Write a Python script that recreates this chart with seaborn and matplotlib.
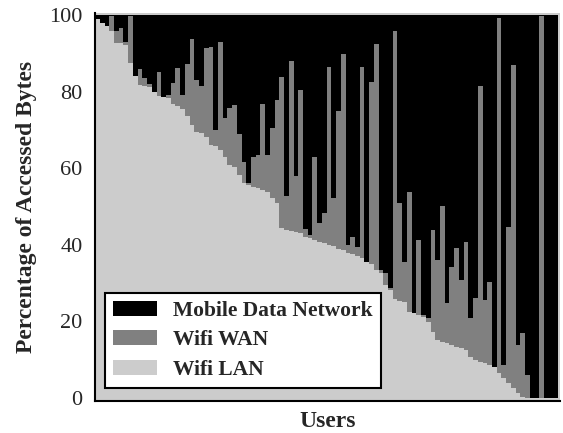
import numpy as np
import pandas as pd
import matplotlib
matplotlib.use('Agg')
import matplotlib.pyplot as plt
import seaborn as sns
from matplotlib.patches import Patch

# share of accessed bytes per user (percent), users sorted by wifi lan share
lan = [99.0, 97.8, 97.0, 95.9, 92.8, 92.6, 92.2, 87.4, 84.1, 81.7,
       81.4, 81.1, 80.0, 78.9, 78.5, 78.3, 76.8, 76.1, 75.4, 73.6,
       71.3, 69.5, 69.2, 68.2, 66.1, 65.8, 64.8, 63.0, 60.8, 60.4,
       58.2, 56.2, 55.6, 55.2, 54.7, 54.3, 53.9, 52.1, 50.8, 44.3,
       43.9, 43.7, 43.4, 43.0, 42.1, 41.8, 41.2, 40.8, 40.4, 40.0,
       39.6, 39.0, 38.5, 37.9, 37.5, 37.0, 36.5, 35.5, 35.0, 33.5,
       32.5, 29.5, 28.2, 25.9, 25.3, 25.1, 22.5, 22.1, 21.7, 21.2,
       19.9, 17.3, 15.1, 14.7, 14.3, 13.8, 13.4, 13.0, 12.5, 10.8,
       9.9, 9.5, 9.1, 8.6, 8.2, 6.4, 5.1, 3.8, 2.5, 1.2,
       0.3, 0.0, 0.0, 0.0, 0.0, 0.0, 0.0, 0.0]
wan = [0.0, 0.0, 0.0, 3.7, 3.0, 3.9, 0.8, 12.4, 0.0, 4.1,
       2.1, 0.9, 0.0, 6.3, 0.0, 0.8, 5.4, 10.0, 3.7, 13.6,
       22.4, 13.5, 12.3, 23.1, 25.5, 4.2, 28.1, 10.0, 14.8, 16.1,
       10.7, 5.5, 0.5, 7.8, 8.7, 22.5, 9.5, 18.3, 27.0, 39.4,
       8.8, 44.3, 14.6, 37.4, 1.9, 0.7, 21.8, 4.8, 7.8, 46.3,
       12.5, 35.8, 51.3, 2.1, 4.6, 2.5, 49.8, 0.0, 47.6, 58.9,
       0.9, 3.0, 0.4, 69.9, 25.5, 10.5, 31.4, 0.0, 19.6, 0.5,
       0.9, 26.6, 20.9, 35.3, 10.4, 20.5, 25.7, 17.8, 28.3, 10.0,
       16.1, 72.0, 16.5, 21.8, 0.0, 92.7, 3.5, 40.9, 84.4, 12.6,
       16.6, 6.0, 0.0, 0.0, 99.7, 0.0, 0.0, 0.0]

labels = ['Mobile Data Network', 'Wifi WAN', 'Wifi LAN']
colors = ['#000000', '#808080', '#cccccc']

df = pd.DataFrame({'user': np.arange(len(lan)), 'lan': lan, 'wan': wan})
df['mobile'] = 100 - df['lan'] - df['wan']
df['lan_wan'] = df['lan'] + df['wan']
df['total'] = df['lan_wan'] + df['mobile']

sns.set_style('white')
plt.rcParams['font.family'] = ['Liberation Serif', 'DejaVu Serif']

fig = plt.figure(figsize=(5.63, 4.33), dpi=100)
ax = fig.add_axes([0.1687, 0.0739, 0.826, 0.896])
ax.set_facecolor('#cccccc')

# stacked bars drawn as overlapping cumulative bars
for col, c in zip(['total', 'lan_wan', 'lan'], colors):
    sns.barplot(data=df, x='user', y=col, color=c, width=1.0, errorbar=None,
                linewidth=0, edgecolor='none', saturation=1, antialiased=False, ax=ax)

ax.set_xlim(-0.53, len(lan) - 0.5 + 0.4)
ax.set_ylim(-0.8, 100.5)
ax.set_xticks([])
ax.set_yticks([0, 20, 40, 60, 80, 100])
ax.tick_params(axis='y', length=0, pad=9, labelsize=16)
ax.set_xlabel('Users', fontsize=17, fontweight='bold', labelpad=7.5)
ax.set_ylabel('Percentage of Accessed Bytes', fontsize=17, fontweight='bold', labelpad=9)

for s in ['top', 'right']:
    ax.spines[s].set_visible(False)
for s in ['left', 'bottom']:
    ax.spines[s].set_color('black')
    ax.spines[s].set_linewidth(1.5)

handles = [Patch(facecolor=c, edgecolor='none') for c in colors]
leg = ax.legend(handles, labels, loc='lower left', bbox_to_anchor=(0.021, 0.033),
                borderaxespad=0, frameon=True, fancybox=False, framealpha=1,
                prop={'size': 15.5, 'weight': 'bold'}, handlelength=2.05,
                handleheight=0.7, handletextpad=0.75, labelspacing=0.45, borderpad=0.37)
leg.get_frame().set_edgecolor('black')
leg.get_frame().set_linewidth(1.5)

fig.savefig('out.png', dpi=100)
